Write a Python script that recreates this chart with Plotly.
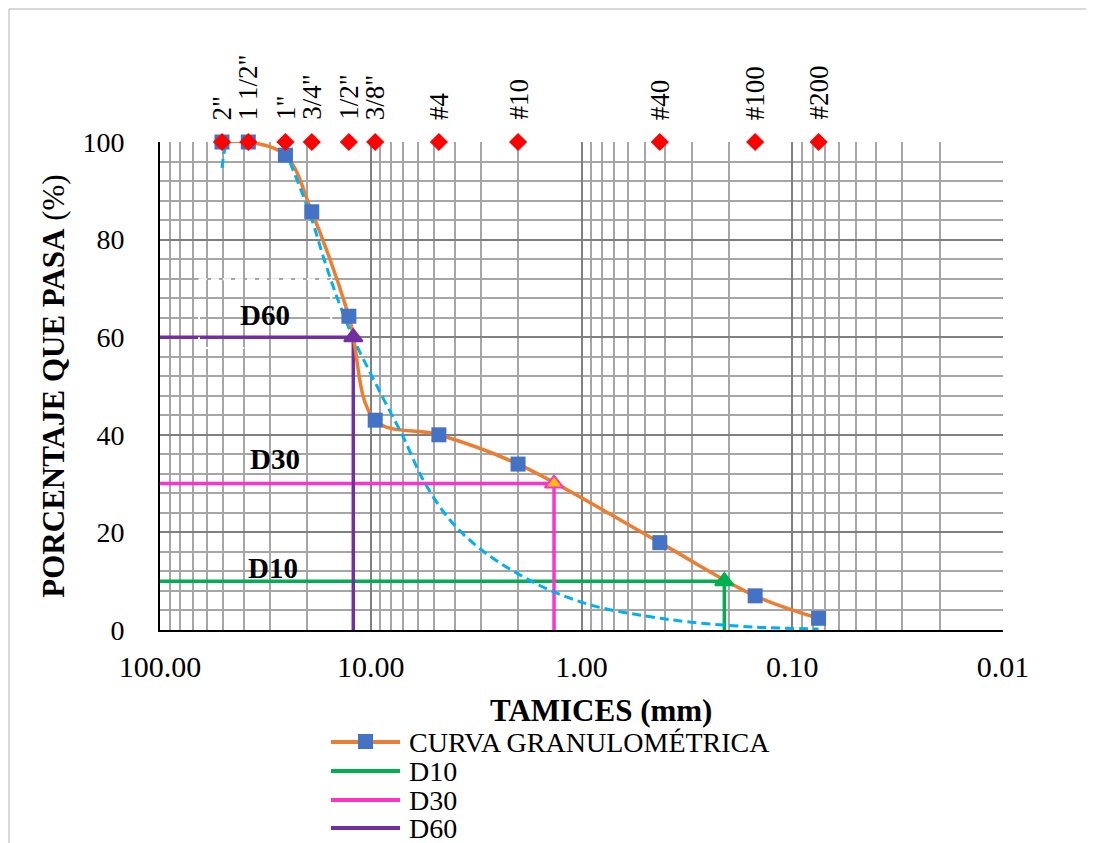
import math
import plotly.graph_objects as go

# ---------------- data ----------------
sieve_labels = ['2"', '1 1/2"', '1"', '3/4"', '1/2"', '3/8"', '#4', '#10', '#40', '#100', '#200']
sieve_mm = [50.8, 38.1, 25.4, 19.05, 12.7, 9.525, 4.75, 2.0, 0.425, 0.15, 0.075]
pct_passing = [100.0, 100.0, 97.3, 85.7, 64.3, 43.0, 40.0, 34.0, 17.9, 7.0, 2.4]
sieve_marker_pct = [100] * len(sieve_mm)

# dashed light-blue curve
trend_mm = [50.8, 48.3, 44.0, 38.0, 32.0, 28.0, 25.4, 22.5, 19.0, 16.8, 14.3, 12.1,
            10.0, 8.5, 7.0, 5.6, 4.2, 3.0, 2.0, 1.35, 0.85, 0.5, 0.3, 0.15, 0.075]
trend_pct = [94.7, 100.0, 103.5, 105.0, 104.0, 101.5, 98.0, 92.5, 84.0, 76.5, 67.6, 59.8,
             52.5, 46.5, 39.5, 30.5, 22.5, 16.5, 11.5, 7.8, 4.8, 2.9, 1.6, 0.6, 0.2]

d_names = ['D10', 'D30', 'D60']
d_pct = [10, 30, 60]
d_mm = [0.21, 1.35, 12.1]
d_colors = ['#00B050', '#FF33CC', '#7030A0']
d_label_mm = [29.1, 28.5, 31.8]
d_label_pct = [12.7, 35.0, 64.5]

legend_names = ['CURVA GRANULOMÉTRICA', 'D10', 'D30', 'D60']

x_ticks = [100, 10, 1, 0.1, 0.01]
x_ticktext = ['100.00', '10.00', '1.00', '0.10', '0.01']

# ---------------- layout helpers ----------------
OFF = 8                      # page body margin
W, H = 1094 - OFF, 843 - OFF  # figure size
# plot area in page pixels
L, R, T, B = 160, 1003, 142, 630
PW, PH = R - L, B - T


def px(x):
    return (x - L) / PW


def py(y):
    return (B - y) / PH


FONT = 'Liberation Serif'
ORANGE = '#ED7D31'
BLUE = '#4472C4'
LBLUE = '#00B0F0'

fig = go.Figure()

# D lines
for name, p, d, c in zip(d_names, d_pct, d_mm, d_colors):
    fig.add_trace(go.Scatter(
        x=[100, d, d], y=[p, p, 0], mode='lines', name=name,
        line=dict(color=c, width=3.5), showlegend=False, hoverinfo='skip'))

# white dashed text-box outline near the D60 label
box_x = [65.3, 15.4, 15.4, 65.3, 65.3]
box_y = [71.9, 71.9, 57.8, 57.8, 71.9]
fig.add_trace(go.Scatter(x=box_x, y=box_y, mode='lines', showlegend=False,
                         line=dict(color='white', width=2, dash='8px,4px'), hoverinfo='skip'))

# grading curve line
fig.add_trace(go.Scatter(
    x=sieve_mm, y=pct_passing, mode='lines', name=legend_names[0],
    line=dict(color=ORANGE, width=3.5, shape='spline', smoothing=1.0),
    showlegend=False))

# dashed fitted curve
fig.add_trace(go.Scatter(
    x=trend_mm, y=trend_pct, mode='lines', showlegend=False,
    line=dict(color=LBLUE, width=3, dash='9px,5px', shape='spline', smoothing=1.0),
    hoverinfo='skip'))

# squares
fig.add_trace(go.Scatter(
    x=sieve_mm, y=pct_passing, mode='markers', showlegend=False, cliponaxis=False,
    marker=dict(symbol='square', size=15, color=BLUE)))

# triangles at D points
tri_fill = ['#00B050', '#FFC000', '#7030A0']
fig.add_trace(go.Scatter(
    x=d_mm, y=d_pct, mode='markers', showlegend=False, cliponaxis=False,
    marker=dict(symbol='triangle-up', size=16, color=tri_fill,
                line=dict(color=d_colors, width=2))))

# red diamonds at the top for each sieve
fig.add_trace(go.Scatter(
    x=sieve_mm, y=sieve_marker_pct, mode='markers', showlegend=False, cliponaxis=False,
    marker=dict(symbol='diamond', size=14, color='#FF0000')))

annotations = []
for lab, mm in zip(sieve_labels, sieve_mm):
    annotations.append(dict(
        x=math.log10(mm), y=100, xref='x', yref='y', text=lab, showarrow=False,
        textangle=-90, xanchor='center', yanchor='bottom', yshift=20,
        font=dict(family=FONT, size=27, color='black')))

for name, lx, ly in zip(d_names, d_label_mm, d_label_pct):
    annotations.append(dict(
        x=math.log10(lx), y=ly, xref='x', yref='y', text='<b>%s</b>' % name,
        showarrow=False, xanchor='center', yanchor='middle',
        font=dict(family=FONT, size=29, color='black')))

annotations.append(dict(
    x=px(601), y=py(710), xref='paper', yref='paper', text='<b>TAMICES (mm)</b>',
    showarrow=False, xanchor='center', yanchor='middle',
    font=dict(family=FONT, size=31, color='black')))

# manual legend
shapes = []
leg_rows = [742, 771, 800, 828]
leg_colors = [ORANGE] + d_colors
for name, yr, c in zip(legend_names, leg_rows, leg_colors):
    shapes.append(dict(type='line', xref='paper', yref='paper',
                       x0=px(331), x1=px(400), y0=py(yr), y1=py(yr),
                       line=dict(color=c, width=4)))
    annotations.append(dict(
        x=px(407), y=py(yr), xref='paper', yref='paper', text=name, showarrow=False,
        xanchor='left', yanchor='middle', font=dict(family=FONT, size=28, color='black')))
shapes.append(dict(type='rect', xref='paper', yref='paper',
                   x0=px(358), x1=px(373), y0=py(749), y1=py(734),
                   fillcolor=BLUE, line=dict(width=0)))

# outer chart frame (left and top edges visible)
shapes.append(dict(type='line', xref='paper', yref='paper', x0=px(9), x1=px(9),
                   y0=py(843), y1=py(9), line=dict(color='#D9D9D9', width=2)))
shapes.append(dict(type='line', xref='paper', yref='paper', x0=px(9), x1=px(1094),
                   y0=py(9), y1=py(9), line=dict(color='#D9D9D9', width=2)))

fig.update_layout(
    width=W, height=H,
    margin=dict(l=L - OFF, r=W - (R - OFF), t=T - OFF, b=H - (B - OFF), autoexpand=False),
    paper_bgcolor='white', plot_bgcolor='white',
    font=dict(family=FONT, color='black'),
    showlegend=False,
    annotations=annotations, shapes=shapes,
    xaxis=dict(
        type='log', range=[2, -2], tickmode='array', tickvals=x_ticks, ticktext=x_ticktext,
        showgrid=True, gridcolor='#808080', gridwidth=1.5,
        minor=dict(dtick='D1', showgrid=True, gridcolor='#A6A6A6', gridwidth=1.5),
        showline=True, linecolor='black', linewidth=2, zeroline=False, ticks='',
        tickfont=dict(family=FONT, size=30, color='black'), ticklabelstandoff=9),
    yaxis=dict(
        range=[0, 100], dtick=20, showgrid=True, gridcolor='#808080', gridwidth=1.5,
        minor=dict(dtick=4, showgrid=True, gridcolor='#A6A6A6', gridwidth=1.5),
        showline=True, linecolor='black', linewidth=2, zeroline=False, ticks='',
        tickfont=dict(family=FONT, size=28, color='black'), ticklabelstandoff=28,
        title=dict(text='<b>PORCENTAJE QUE PASA</b> (%)', standoff=9,
                   font=dict(family=FONT, size=31, color='black'))),
)

fig.write_html('out.html')
